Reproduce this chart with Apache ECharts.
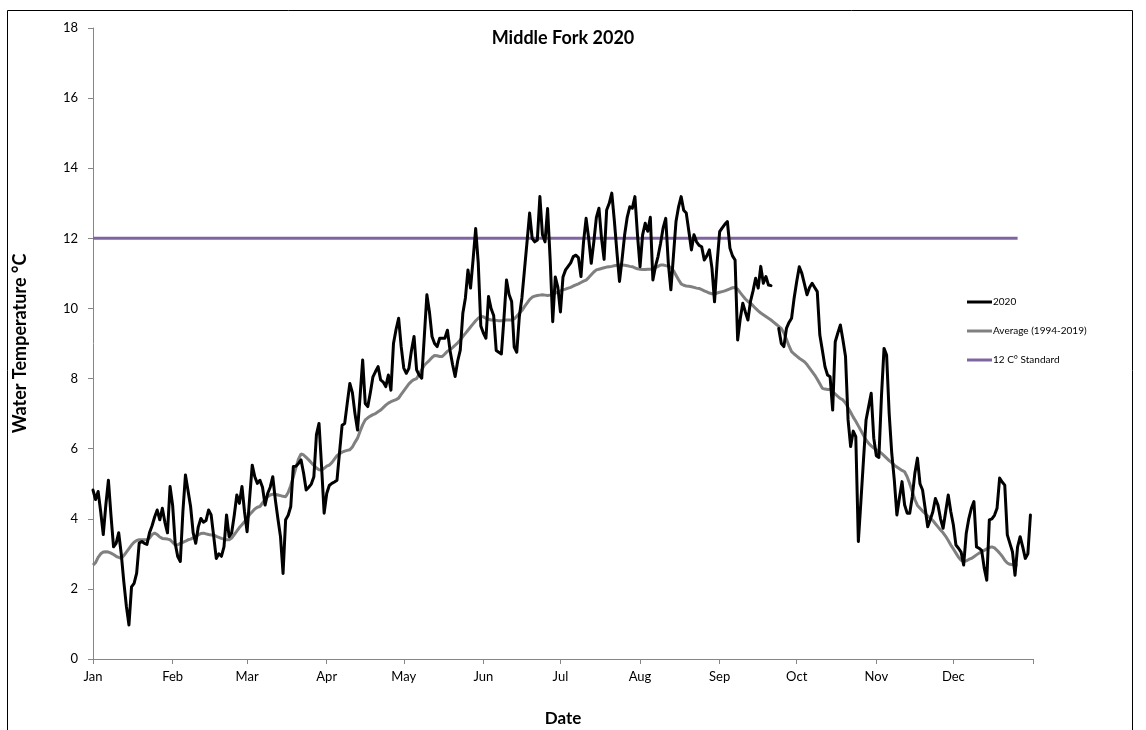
<!DOCTYPE html>
<html>
<head>
<meta charset="utf-8">
<title>Middle Fork 2020</title>
<script src="https://cdn.jsdelivr.net/npm/echarts@6/dist/echarts.min.js"></script>
<style>
  html, body { margin: 0; padding: 0; background: #fff; }
  #chart { width: 1146px; height: 730px; }
</style>
</head>
<body>
<div id="chart"></div>
<script>
// month labels for the x axis
const monthLabels = ['Jan', 'Feb', 'Mar', 'Apr', 'May', 'Jun', 'Jul', 'Aug', 'Sep', 'Oct', 'Nov', 'Dec'];

// daily water temperature 2020 (Jan 1 .. Dec 31), null = missing
const temp2020 = [
  // Jan
  4.82, 4.55, 4.78, 4.2, 3.55, 4.4, 5.1, 4.1, 3.2, 3.3, 3.6, 3.0, 2.2, 1.5, 0.97, 2.06, 2.16, 2.45, 3.31, 3.35,
  3.3, 3.27, 3.6, 3.8, 4.05, 4.25, 3.97, 4.3, 3.9, 3.6, 4.92,
  // Feb
  4.39, 3.3, 2.92, 2.78, 4.2, 5.25, 4.8, 4.35, 3.6, 3.3, 3.77, 4.01, 3.9, 3.95, 4.25, 4.11, 3.5, 2.87, 3.0, 2.93,
  3.2, 4.11, 3.49, 3.6, 4.1, 4.68, 4.44, 4.92, 4.2,
  // Mar
  3.63, 4.6, 5.53, 5.2, 5.01, 5.1, 4.9, 4.39, 4.72, 4.9, 5.2, 4.54, 4.0, 3.49, 2.44, 3.97, 4.1, 4.35, 5.49, 5.5,
  5.58, 5.68, 5.3, 4.82, 4.9, 4.99, 5.2, 6.4, 6.72, 5.49, 4.16,
  // Apr
  4.72, 4.95, 5.01, 5.05, 5.1, 5.9, 6.67, 6.72, 7.3, 7.86, 7.6, 7.0, 6.53, 7.5, 8.53, 7.29, 7.2, 7.6, 8.05, 8.2,
  8.34, 7.96, 7.9, 7.77, 8.1, 7.67, 9.0, 9.4, 9.72, 8.91,
  // May
  8.3, 8.15, 8.29, 8.8, 9.2, 8.25, 8.1, 8.01, 9.2, 10.39, 9.9, 9.2, 9.0, 8.91, 9.15, 9.15, 9.15, 9.38, 8.81, 8.4,
  8.06, 8.5, 8.81, 9.86, 10.3, 11.1, 10.58, 11.4, 12.28, 11.3, 9.5,
  // Jun
  9.3, 9.15, 10.34, 10.0, 9.8, 8.8, 8.75, 8.7, 9.7, 10.81, 10.4, 10.2, 8.9, 8.75, 9.77, 10.3, 11.1, 11.9, 12.72, 12.0,
  11.9, 11.95, 13.19, 12.1, 11.9, 12.85, 11.4, 9.62, 10.9, 10.6,
  // Jul
  9.9, 10.9, 11.1, 11.2, 11.3, 11.48, 11.52, 11.45, 10.91, 11.9, 12.57, 12.0, 11.29, 11.9, 12.6, 12.86, 12.0, 11.4, 12.81, 13.0,
  13.29, 12.5, 11.6, 10.77, 11.4, 12.1, 12.6, 12.9, 12.86, 13.19, 12.1,
  // Aug
  11.19, 12.1, 12.43, 12.2, 12.6, 10.81, 11.2, 11.48, 11.86, 12.3, 12.57, 11.3, 10.53, 11.5, 12.48, 12.9, 13.19, 12.8, 12.72, 12.2,
  11.67, 12.1, 11.9, 11.8, 11.76, 11.38, 11.5, 11.67, 11.15, 10.19, 11.3,
  // Sep
  12.19, 12.3, 12.4, 12.48, 11.72, 11.5, 11.38, 9.1, 9.7, 10.15, 9.9, 9.67, 10.2, 10.5, 10.86, 10.58, 11.2, 10.72, 10.91, 10.67,
  10.65, null, null, 9.43, 9.0, 8.91, 9.43, 9.6, 9.72, 10.3,
  // Oct
  10.77, 11.19, 11.0, 10.7, 10.39, 10.6, 10.72, 10.6, 10.48, 9.24, 8.8, 8.34, 8.1, 8.05, 7.1, 9.05, 9.3, 9.53, 9.1, 8.63,
  6.82, 6.06, 6.5, 6.34, 3.35, 4.5, 5.68, 6.82, 7.2, 7.58, 6.3,
  // Nov
  5.8, 5.75, 7.5, 8.86, 8.67, 7.0, 5.87, 5.1, 4.11, 4.6, 5.06, 4.4, 4.16, 4.16, 4.63, 5.3, 5.73, 5.0, 4.82, 4.3,
  3.77, 3.97, 4.2, 4.58, 4.39, 4.0, 3.73, 4.2, 4.68, 4.2,
  // Dec
  3.82, 3.25, 3.16, 3.05, 2.68, 3.58, 4.0, 4.3, 4.49, 3.2, 3.16, 3.1, 2.6, 2.25, 3.97, 4.0, 4.1, 4.3, 5.16, 5.05,
  4.96, 3.54, 3.3, 3.06, 2.39, 3.2, 3.49, 3.2, 2.87, 3.0, 4.11
];

// daily average 1994-2019 (Jan 1 .. Dec 26)
const avgTemp = [
  // Jan
  2.68, 2.75, 2.9, 3.0, 3.05, 3.06, 3.05, 3.02, 2.98, 2.93, 2.9, 2.87, 2.95, 3.05, 3.15, 3.25, 3.33, 3.38, 3.4, 3.4,
  3.4, 3.4, 3.45, 3.55, 3.59, 3.55, 3.48, 3.44, 3.43, 3.42, 3.4,
  // Feb
  3.33, 3.25, 3.26, 3.3, 3.33, 3.36, 3.4, 3.42, 3.46, 3.5, 3.54, 3.58, 3.59, 3.57, 3.55, 3.54, 3.54, 3.5, 3.47, 3.44,
  3.42, 3.4, 3.4, 3.45, 3.55, 3.65, 3.75, 3.83, 3.92,
  // Mar
  4.02, 4.12, 4.2, 4.28, 4.33, 4.35, 4.45, 4.55, 4.63, 4.68, 4.7, 4.7, 4.68, 4.66, 4.64, 4.63, 4.75, 4.95, 5.2, 5.45,
  5.7, 5.85, 5.82, 5.75, 5.68, 5.6, 5.52, 5.45, 5.4, 5.39, 5.44,
  // Apr
  5.5, 5.53, 5.6, 5.7, 5.8, 5.86, 5.9, 5.93, 5.95, 5.97, 6.05, 6.18, 6.3, 6.5, 6.68, 6.82, 6.88, 6.93, 6.97, 7.0,
  7.05, 7.1, 7.17, 7.24, 7.3, 7.34, 7.37, 7.4, 7.44, 7.55,
  // May
  7.65, 7.75, 7.85, 7.92, 7.97, 8.0, 8.12, 8.25, 8.38, 8.45, 8.52, 8.6, 8.66, 8.65, 8.63, 8.63, 8.7, 8.78, 8.82, 8.88,
  8.95, 9.02, 9.1, 9.2, 9.29, 9.38, 9.47, 9.56, 9.65, 9.72, 9.77,
  // Jun
  9.76, 9.72, 9.69, 9.67, 9.67, 9.66, 9.65, 9.65, 9.66, 9.67, 9.67, 9.67, 9.7, 9.78, 9.86, 9.94, 10.05, 10.15, 10.25, 10.32,
  10.35, 10.37, 10.38, 10.39, 10.38, 10.37, 10.38, 10.39, 10.43, 10.48,
  // Jul
  10.5, 10.53, 10.55, 10.58, 10.6, 10.64, 10.67, 10.7, 10.74, 10.78, 10.81, 10.88, 10.96, 11.04, 11.1, 11.12, 11.14, 11.16, 11.18, 11.19,
  11.2, 11.22, 11.23, 11.24, 11.24, 11.23, 11.22, 11.2, 11.19, 11.16, 11.13,
  // Aug
  11.12, 11.11, 11.11, 11.12, 11.12, 11.12, 11.16, 11.2, 11.24, 11.24, 11.22, 11.2, 11.17, 11.08, 10.95, 10.82, 10.7, 10.66, 10.64, 10.63,
  10.62, 10.6, 10.58, 10.57, 10.54, 10.5, 10.47, 10.44, 10.42, 10.41, 10.44,
  // Sep
  10.46, 10.48, 10.5, 10.53, 10.56, 10.59, 10.6, 10.55, 10.45, 10.36, 10.27, 10.2, 10.15, 10.08, 10.0, 9.93, 9.87, 9.82, 9.77, 9.72,
  9.67, 9.61, 9.55, 9.49, 9.43, 9.3, 9.12, 8.93, 8.77, 8.7,
  // Oct
  8.64, 8.58, 8.53, 8.48, 8.4, 8.3, 8.2, 8.1, 7.98, 7.85, 7.72, 7.7, 7.69, 7.69, 7.63, 7.56, 7.49, 7.43, 7.39, 7.3,
  7.17, 7.04, 6.9, 6.78, 6.65, 6.52, 6.38, 6.25, 6.15, 6.08, 6.02,
  // Nov
  5.97, 5.92, 5.87, 5.8, 5.73, 5.66, 5.6, 5.53, 5.48, 5.43, 5.38, 5.34, 5.2, 5.0, 4.78, 4.55, 4.38, 4.3, 4.22, 4.15,
  4.08, 4.02, 3.95, 3.86, 3.77, 3.68, 3.6, 3.5, 3.38, 3.25,
  // Dec
  3.14, 3.02, 2.9, 2.82, 2.78, 2.8, 2.84, 2.87, 2.92, 2.97, 3.02, 3.06, 3.1, 3.14, 3.18, 3.2, 3.17, 3.1, 3.02, 2.93,
  2.82, 2.74, 2.7, 2.69, 2.68, 2.68
];

// 12 C standard, drawn over the same span as the average
const standardLevel = 12;
const standardStart = '2020-01-01';
const standardEnd = '2020-12-26';

// y axis ticks
const yMin = 0;
const yMax = 18;
const yStep = 2;

// one category per day, Jan 1 2020 .. Jan 1 2021
const days = [];
for (let i = 0; i <= 366; i++) {
  const d = new Date(Date.UTC(2020, 0, 1 + i));
  days.push(d.toISOString().slice(0, 10));
}
const isMonthStart = (idx) => days[idx] && days[idx].slice(8) === '01';

const chart = echarts.init(document.getElementById('chart'));
const font = 'Lato, "Open Sans", sans-serif';

const option = {
  animation: false,
  backgroundColor: '#fff',
  textStyle: { fontFamily: font },
  grid: { left: 93, right: 113, top: 28, bottom: 71, outerBoundsMode: 'none' },
  legend: {
    orient: 'vertical',
    left: 962,
    top: 292,
    icon: 'rect',
    itemWidth: 25,
    itemHeight: 3,
    itemGap: 19,
    textStyle: { fontSize: 10, color: '#000', fontFamily: font, padding: [0, 0, 0, -4] },
    data: ['2020', 'Average (1994-2019)', '12 C\u00b0 Standard']
  },
  xAxis: {
    type: 'category',
    data: days,
    boundaryGap: false,
    name: 'Date',
    nameLocation: 'middle',
    nameGap: 51,
    nameTextStyle: { fontSize: 17, fontWeight: 'bold', color: '#000' },
    axisLine: { lineStyle: { color: '#868686', width: 1 } },
    axisTick: {
      interval: (idx) => isMonthStart(idx),
      length: 5,
      lineStyle: { color: '#868686' }
    },
    axisLabel: {
      interval: (idx) => isMonthStart(idx) && idx < 366,
      margin: 11,
      fontSize: 13,
      color: '#000',
      formatter: (v) => v.startsWith('2020') ? monthLabels[parseInt(v.slice(5, 7), 10) - 1] : ''
    },
    splitLine: { show: false }
  },
  yAxis: {
    type: 'value',
    min: yMin,
    max: yMax,
    interval: yStep,
    name: 'Water Temperature \u00b0C',
    nameLocation: 'middle',
    nameGap: 64,
    nameRotate: 90,
    nameTextStyle: { fontSize: 18, fontWeight: 'bold', color: '#000' },
    axisLine: { show: true, lineStyle: { color: '#868686', width: 1 } },
    axisTick: { show: true, length: 5, lineStyle: { color: '#868686' } },
    axisLabel: { margin: 15, fontSize: 13, color: '#000' },
    splitLine: { show: false }
  },
  graphic: [
    {
      type: 'rect',
      silent: true,
      shape: { x: 7.5, y: 10.5, width: 1125, height: 740 },
      style: { fill: null, stroke: '#000', lineWidth: 1 }
    },
    {
      type: 'text',
      silent: true,
      style: {
        x: 563, y: 38,
        text: 'Middle Fork 2020',
        align: 'center',
        verticalAlign: 'middle',
        fontSize: 18,
        fontWeight: 'bold',
        fontFamily: font,
        fill: '#000'
      }
    }
  ],
  series: [
    {
      name: '12 C\u00b0 Standard',
      type: 'line',
      symbol: 'none',
      color: '#8064a2',
      lineStyle: { width: 3, color: '#8064a2' },
      data: [[standardStart, standardLevel], [standardEnd, standardLevel]],
      z: 1
    },
    {
      name: 'Average (1994-2019)',
      type: 'line',
      symbol: 'none',
      color: '#808080',
      lineStyle: { width: 3, color: '#808080' },
      data: avgTemp,
      z: 2
    },
    {
      name: '2020',
      type: 'line',
      symbol: 'none',
      color: '#000',
      connectNulls: false,
      lineStyle: { width: 3, color: '#000', join: 'round', cap: 'round' },
      data: temp2020,
      z: 3
    }
  ]
};

chart.setOption(option);
</script>
</body>
</html>
